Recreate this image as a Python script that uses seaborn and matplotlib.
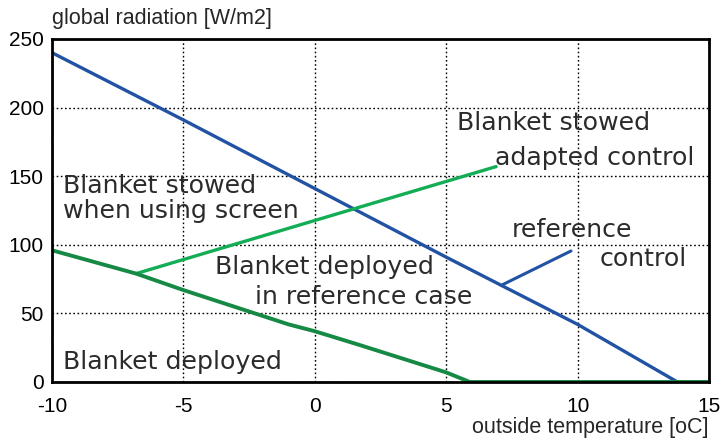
import numpy as np
import pandas as pd
import seaborn as sns
import matplotlib.pyplot as plt

# reference control (blanket stowed above this line)
ref_temp = [-10, -5, 0, 2, 5, 10, 13.8, 15]
ref_rad = [240, 191, 141, 121, 91, 42, 0, 0]

# blanket deployed, reference case
dep_temp = [-10, -6.8, -5, -1, 0, 1.7, 5, 5.9, 15]
dep_rad = [96, 79, 67, 42, 37, 27, 7, 0, 0]

# adapted control when using screen
adp_temp = [-6.8, 6.9]
adp_rad = [79, 157]

# pointer for "reference control" label
ptr_temp = [7.1, 9.75]
ptr_rad = [70.5, 95.5]

xticks = [-10, -5, 0, 5, 10, 15]
yticks = [0, 50, 100, 150, 200, 250]

blue = '#2152a3'
lgreen = '#12ad55'
dgreen = '#168a45'
txt = '#2b2b2b'

sns.set_style('white')
plt.rcParams['font.family'] = ['DejaVu Sans']

fig = plt.figure(figsize=(7.2, 4.41), dpi=100)
ax = fig.add_axes([0.0722, 0.1338, 0.9125, 0.7778])

sns.lineplot(x=ref_temp, y=ref_rad, color=blue, lw=2.4, sort=False, estimator=None, ax=ax)
sns.lineplot(x=adp_temp, y=adp_rad, color=lgreen, lw=2.4, sort=False, estimator=None, ax=ax)
sns.lineplot(x=ptr_temp, y=ptr_rad, color=blue, lw=2.2, sort=False, estimator=None, ax=ax)
sns.lineplot(x=dep_temp, y=dep_rad, color=dgreen, lw=2.8, sort=False, estimator=None, ax=ax)

ax.set_xlim(-10, 15)
ax.set_ylim(0, 250)
ax.set_xticks(xticks)
ax.set_xticklabels([str(t) for t in xticks])
ax.set_yticks(yticks)
ax.set_yticklabels([str(t) for t in yticks])
ax.grid(True, color='black', linestyle=(0, (1.2, 1.8)), linewidth=1)
for s in ax.spines.values():
    s.set_color('black')
    s.set_linewidth(2)
ax.tick_params(length=0, labelsize=15, labelcolor='black')
ax.tick_params(axis='x', pad=11)
ax.tick_params(axis='y', pad=6)
for lab in ax.get_xticklabels() + ax.get_yticklabels():
    lab.set_family('Liberation Sans')

fig.text(0.0722, 0.957, 'global radiation [W/m2]', fontsize=15.5, family='Liberation Sans', va='center', ha='left')
fig.text(0.9847, 0.03, 'outside temperature [oC]', fontsize=15.5, family='Liberation Sans', va='center', ha='right')

fs = 18.2
ax.text(-9.58, 134, 'Blanket stowed\nwhen using screen', fontsize=fs, color=txt, va='center', ha='left', linespacing=1.05)
ax.text(5.41, 189, 'Blanket stowed', fontsize=fs, color=txt, va='center', ha='left')
ax.text(14.43, 163, 'adapted control', fontsize=fs, color=txt, va='center', ha='right')
ax.text(7.5, 111, 'reference', fontsize=fs, color=txt, va='center', ha='left')
ax.text(14.16, 90, 'control', fontsize=fs, color=txt, va='center', ha='right')
ax.text(-3.8, 84, 'Blanket deployed', fontsize=fs, color=txt, va='center', ha='left')
ax.text(5.98, 62, 'in reference case', fontsize=fs, color=txt, va='center', ha='right')
ax.text(-9.58, 14.5, 'Blanket deployed', fontsize=fs, color=txt, va='center', ha='left')

fig.savefig('out.png', dpi=100)
